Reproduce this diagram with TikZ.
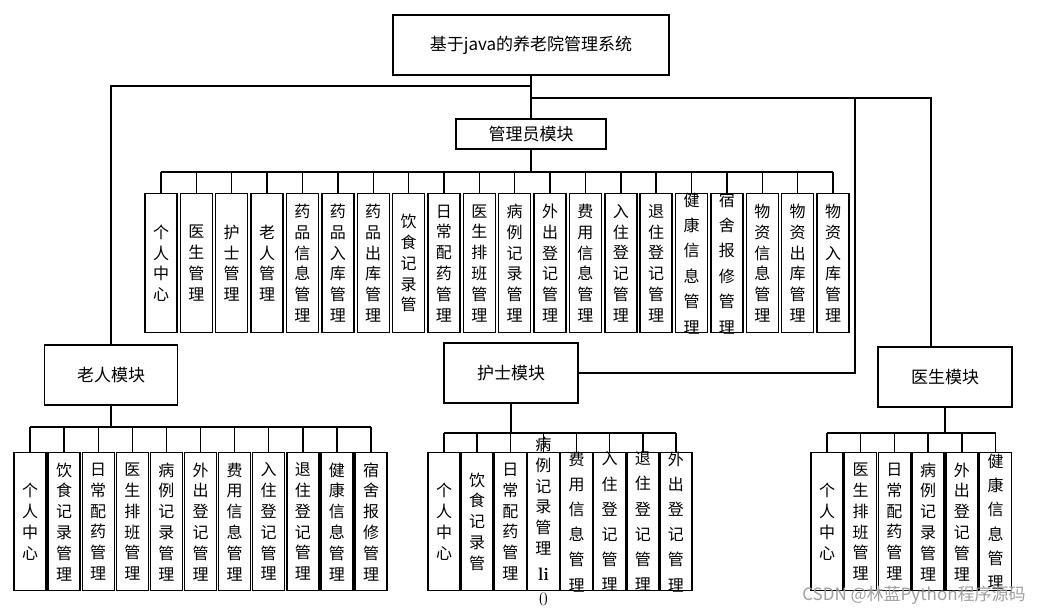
\documentclass[tikz,border=0pt]{standalone}
\usepackage{fontspec}
\newfontfamily\cjk{Noto Sans CJK SC}

\begin{document}
\begin{tikzpicture}[
  x=1pt, y=-1pt,
  every node/.style={font=\cjk\fontsize{17}{20}\selectfont, inner sep=0pt},
  modbox/.style={draw, line width=1.4pt, fill=white},
  leaf/.style={draw, line width=1.4pt, minimum width=32pt, minimum height=139pt, anchor=north},
  leaftext/.style={align=center, font=\cjk\fontsize{16}{#1}\selectfont},
  leaftext/.default=20.8,
  link/.style={line width=1.4pt}
]
\useasboundingbox (0,0) rectangle (1054,614);

\node[modbox, minimum width=276pt, minimum height=60pt] (root) at (531,45) {基于java的养老院管理系统};
\node[modbox, minimum width=150pt, minimum height=30pt] (adm) at (531,134) {管理员模块};
\node[modbox, minimum width=133pt, minimum height=60pt] (old) at (111,375) {老人模块};
\node[modbox, minimum width=134pt, minimum height=60pt] (nur) at (511,373) {护士模块};
\node[modbox, minimum width=134pt, minimum height=60pt] (doc) at (945,377) {医生模块};

\coordinate (lj) at (531,86);
\coordinate (rj) at (531,98);
\coordinate (nj) at (855,98);
\coordinate (dj) at (931,98);
\draw[link] (root.south) -- (adm.north);
\draw[link] (lj) -| (old.north);
\draw[link] (rj) -- (dj) -- (dj |- doc.north);
\draw[link] (nur.east) -| (nj);

% admin
\foreach \t/\b [count=\i] in {
  {个\\人\\中\\心}/20.8, {医\\生\\管\\理}/20.8, {护\\士\\管\\理}/20.8, {老\\人\\管\\理}/20.8,
  {药\\品\\信\\息\\管\\理}/20.8, {药\\品\\入\\库\\管\\理}/20.8, {药\\品\\出\\库\\管\\理}/20.8,
  {饮\\食\\记\\录\\管}/20.8, {日\\常\\配\\药\\管\\理}/20.8, {医\\生\\排\\班\\管\\理}/20.8,
  {病\\例\\记\\录\\管\\理}/20.8, {外\\出\\登\\记\\管\\理}/20.8, {费\\用\\信\\息\\管\\理}/20.8,
  {入\\住\\登\\记\\管\\理}/20.8, {退\\住\\登\\记\\管\\理}/20.8, {健\\康\\信\\息\\管\\理}/25.4,
  {宿\\舍\\报\\修\\管\\理}/25.4, {物\\资\\信\\息\\管\\理}/20.8, {物\\资\\出\\库\\管\\理}/20.8,
  {物\\资\\入\\库\\管\\理}/20.8}
{
  \node[leaf] (a\i) at (125.63+35.37*\i,193) {};
  \node[leaftext=\b] (at\i) at (a\i.center) {\t};
}
\coordinate (abus) at (531,172);
\draw[link] (adm.south) -- (abus);
\draw[link] (a1.north |- abus) -- (a20.north |- abus);
\foreach \i in {1,...,20} \draw[link] (a\i.north) -- (a\i.north |- abus);

% elderly
\foreach \t [count=\i] in {
  {个\\人\\中\\心}, {饮\\食\\记\\录\\管\\理}, {日\\常\\配\\药\\管\\理}, {医\\生\\排\\班\\管\\理},
  {病\\例\\记\\录\\管\\理}, {外\\出\\登\\记\\管\\理}, {费\\用\\信\\息\\管\\理}, {入\\住\\登\\记\\管\\理},
  {退\\住\\登\\记\\管\\理}, {健\\康\\信\\息\\管\\理}, {宿\\舍\\报\\修\\管\\理}}
{
  \node[leaf, minimum height=138pt] (e\i) at (-4.1+34.1*\i,452) {};
  \node[leaftext] (et\i) at (e\i.center) {\t};
}
\coordinate (obus) at (111,427);
\draw[link] (old.south) -- (obus);
\draw[link] (e1.north |- obus) -- (e11.north |- obus);
\foreach \i in {1,...,11} \draw[link] (e\i.north) -- (e\i.north |- obus);

% nurse
\foreach \t/\b [count=\i] in {
  {个\\人\\中\\心}/20.8, {饮\\食\\记\\录\\管}/20.8, {日\\常\\配\\药\\管\\理}/20.8,
  {病\\例\\记\\录\\管\\理\\[5pt]{\rmfamily\bfseries\fontsize{18}{20}\selectfont li}\\[5pt]{\rmfamily\fontsize{19}{20}\selectfont 0}}/20.7,
  {费\\用\\信\\息\\管\\理}/25.2, {入\\住\\登\\记\\管\\理}/25.2, {退\\住\\登\\记\\管\\理}/25.2,
  {外\\出\\登\\记\\管\\理}/25.2}
{
  \node[leaf, minimum height=138pt] (n\i) at (410.86+33.14*\i,452) {};
  \node[leaftext=\b] (nt\i) at (n\i.center) {\t};
}
\coordinate (nbus) at (511,433);
\draw[link] (nur.south) -- (nbus);
\draw[link] (n1.north |- nbus) -- (n8.north |- nbus);
\foreach \i in {1,...,8} \draw[link] (n\i.north) -- (n\i.north |- nbus);

% doctor
\foreach \t/\b [count=\i] in {
  {个\\人\\中\\心}/20.8, {医\\生\\排\\班\\管\\理}/20.8, {日\\常\\配\\药\\管\\理}/20.8,
  {病\\例\\记\\录\\管\\理}/20.8, {外\\出\\登\\记\\管\\理}/20.8, {健\\康\\信\\息\\管\\理}/24.2}
{
  \node[leaf, minimum height=138pt] (d\i) at (793.3+33.7*\i,452) {};
  \node[leaftext=\b] (dt\i) at (d\i.center) {\t};
}
\coordinate (dbus) at (945,433);
\draw[link] (doc.south) -- (dbus);
\draw[link] (d1.north |- dbus) -- (d6.north |- dbus);
\foreach \i in {1,...,6} \draw[link] (d\i.north) -- (d\i.north |- dbus);

\node[text=gray!75, font=\cjk\fontsize{17}{20}\selectfont] (mark) at (914,595) {CSDN @林蓝Python程序源码};
\end{tikzpicture}
\end{document}
